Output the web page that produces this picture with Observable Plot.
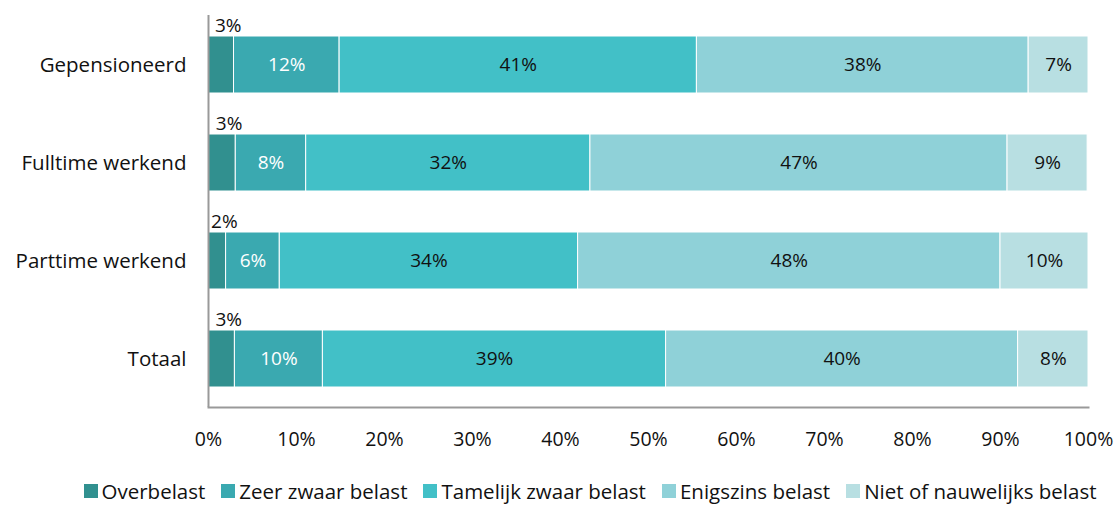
<!DOCTYPE html>
<html>
<head>
<meta charset="utf-8">
<script src="https://cdn.jsdelivr.net/npm/d3@7"></script>
<script src="https://cdn.jsdelivr.net/npm/@observablehq/plot@0.6"></script>
<style>
  html, body { margin: 0; padding: 0; background: #fff; }
  body { width: 1118px; height: 506px; overflow: hidden; font-family: "Open Sans", sans-serif; }
  #legend { display: flex; justify-content: center; align-items: center; gap: 16px; font-size: 20.5px; line-height: 24px; color: #111; margin-top: 9px; margin-left: 62px; white-space: nowrap; }
  #legend .item { display: flex; align-items: center; gap: 4px; }
  #legend .sw { width: 14px; height: 14px; display: inline-block; }
</style>
</head>
<body>
<div id="chart"></div>
<div id="legend"></div>
<script>
const categories = ["Gepensioneerd", "Fulltime werkend", "Parttime werkend", "Totaal"];
const series = ["Overbelast", "Zeer zwaar belast", "Tamelijk zwaar belast", "Enigszins belast", "Niet of nauwelijks belast"];
const colors = ["#31908f", "#3aa9b0", "#42c0c7", "#8fd1d8", "#b8dfe2"];
const overbelast = [2.9, 3.1, 2.0, 3.0];
const zeerZwaar = [12.0, 8.0, 6.1, 10.0];
const tamelijk = [40.6, 32.3, 33.9, 39.0];
const enigszins = [37.7, 47.4, 48.0, 40.0];
const nietNauwelijks = [6.8, 9.1, 10.0, 8.0];
const xTicks = [0, 10, 20, 30, 40, 50, 60, 70, 80, 90, 100];

const valuesBySeries = [overbelast, zeerZwaar, tamelijk, enigszins, nietNauwelijks];
const rows = [];
categories.forEach((c, i) => {
  let acc = 0;
  series.forEach((s, j) => {
    const v = valuesBySeries[j][i];
    rows.push({category: c, series: s, si: j, value: v, x1: acc, x2: acc + v, label: Math.round(v) + "%"});
    acc += v;
  });
});

const font = "Open Sans, sans-serif";
const plot = Plot.plot({
  width: 1118,
  height: 470,
  marginLeft: 208,
  marginRight: 30,
  marginTop: 15,
  marginBottom: 63,
  style: {fontFamily: font, fontSize: "19.5px", color: "#111", background: "white"},
  x: {domain: [0, 100], ticks: xTicks, tickFormat: d => d + "%", tickSize: 0, tickPadding: 25, label: null},
  y: {domain: categories, paddingInner: 0.42, paddingOuter: 0.21, tickSize: 0, tickPadding: 22, label: null},
  color: {domain: series, range: colors},
  marks: [
    Plot.barX(rows, {x1: "x1", x2: "x2", y: "category", fill: "series", stroke: "white", strokeWidth: 1}),
    Plot.ruleX([0], {stroke: "#999", strokeWidth: 2}),
    Plot.frame({anchor: "bottom", stroke: "#999", strokeWidth: 2}),
    Plot.text(rows.filter(d => d.si === 0), {x: d => (d.x1 + d.x2) / 2, y: "category", text: "label", dx: 7, dy: -39, fill: "#111", fontSize: 19}),
    Plot.text(rows.filter(d => d.si === 1), {x: d => (d.x1 + d.x2) / 2, y: "category", text: "label", fill: "white", fontSize: 19}),
    Plot.text(rows.filter(d => d.si >= 2), {x: d => (d.x1 + d.x2) / 2, y: "category", text: "label", fill: "#111", fontSize: 19})
  ]
});
plot.querySelectorAll("g[aria-label='y-axis tick label'] text, g[aria-label='y-axis tick label']").forEach(el => el.setAttribute("font-size", "20.5"));
document.getElementById("chart").appendChild(plot);

const legend = document.getElementById("legend");
series.forEach((s, j) => {
  const item = document.createElement("span");
  item.className = "item";
  const sw = document.createElement("span");
  sw.className = "sw";
  sw.style.background = colors[j];
  const t = document.createElement("span");
  t.textContent = s;
  item.appendChild(sw);
  item.appendChild(t);
  legend.appendChild(item);
});
</script>
</body>
</html>
